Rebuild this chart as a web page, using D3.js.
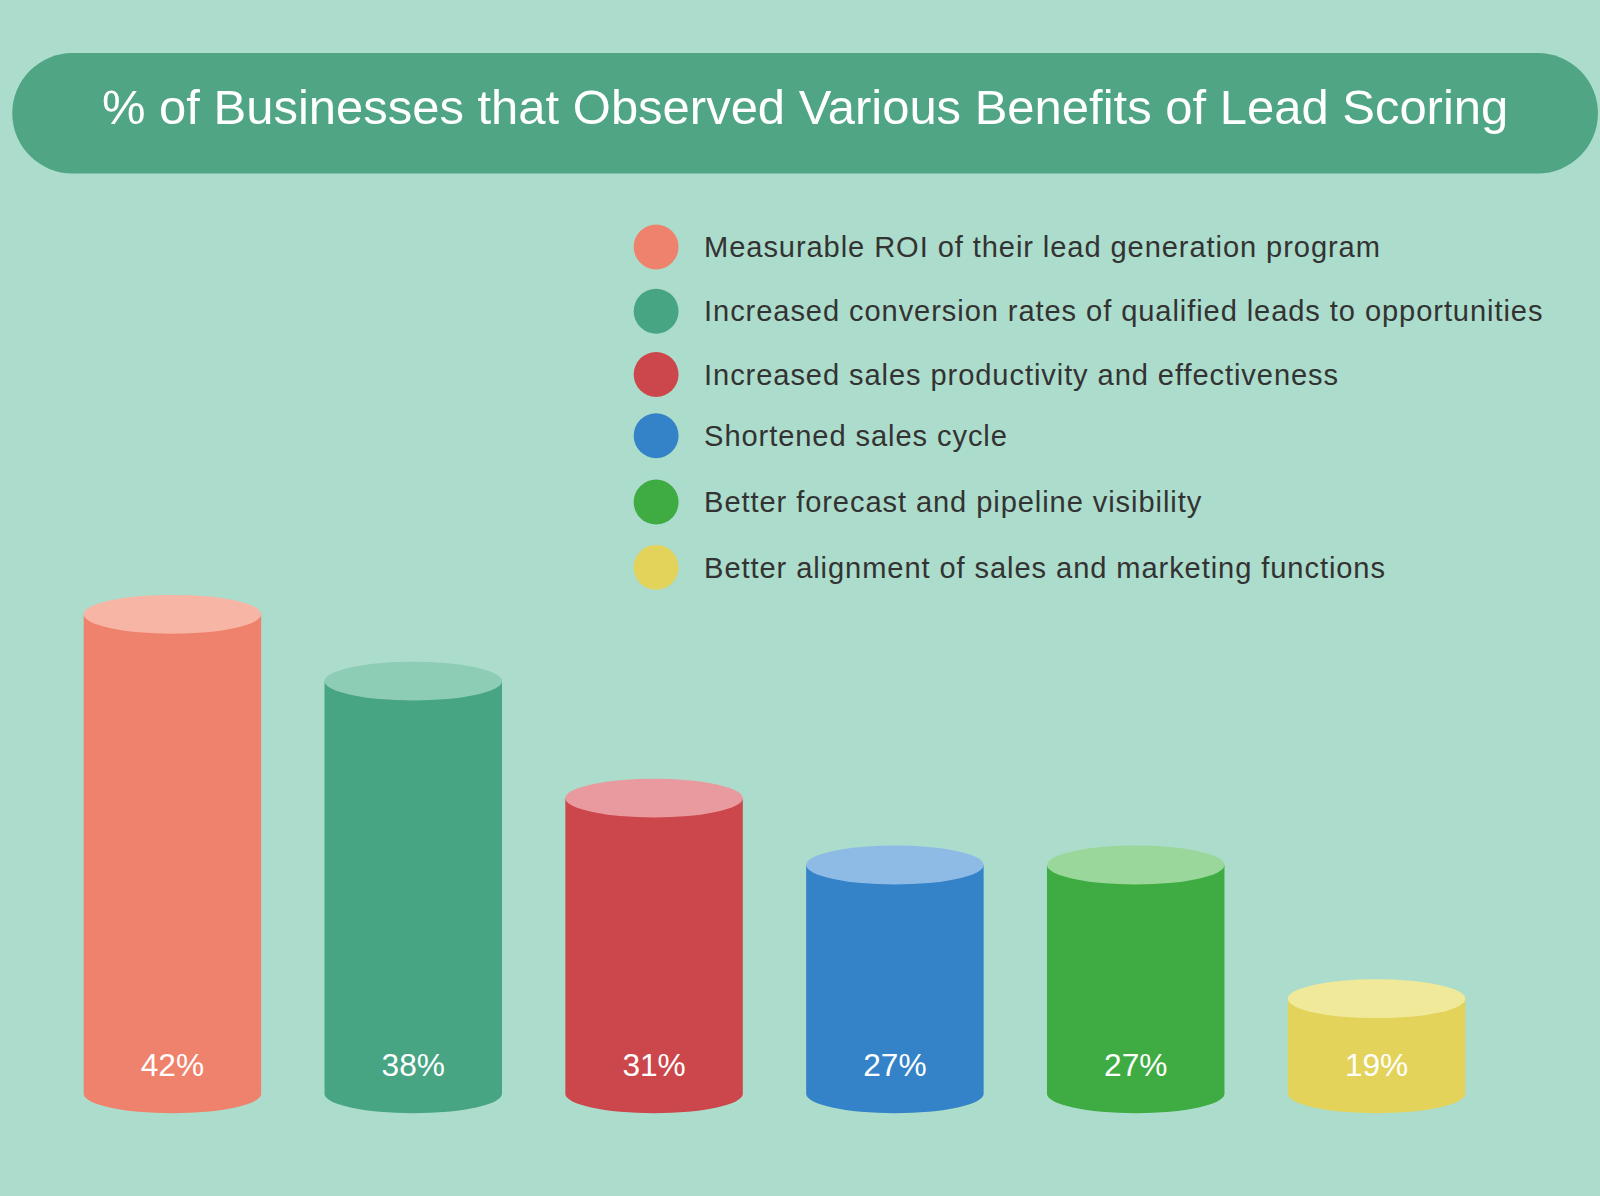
<!DOCTYPE html>
<html><head><meta charset="utf-8">
<script src="https://cdn.jsdelivr.net/npm/d3@7"></script>
<style>body{margin:0;background:#acdccb}</style></head>
<body><svg id="c" width="1600" height="1196"></svg>
<script>
const categories=["Measurable ROI of their lead generation program","Increased conversion rates of qualified leads to opportunities","Increased sales productivity and effectiveness","Shortened sales cycle","Better forecast and pipeline visibility","Better alignment of sales and marketing functions"];
const values=[42,38,31,27,27,19];
const labels=["42%","38%","31%","27%","27%","19%"];
const colors=["#ef826c","#48a584","#cc474b","#3483c8","#3eac42","#e3d35a"];
const topColors=["#f7b5a6","#8dccb5","#e89a9e","#8dbbe6","#9ad79b","#f1e99a"];
const legendY=[242,305,367,427,492,556];

const svg=d3.select("#c");
svg.append("rect").attr("width",1600).attr("height",1196).attr("fill","#acdccb");
const g=svg.append("g").attr("transform","scale(1.0204)");
g.append("rect").attr("x",12).attr("y",52).attr("width",1554).attr("height",118).attr("rx",59).attr("fill","#4fa584");
g.append("text").attr("x",789).attr("y",122).attr("text-anchor","middle").attr("fill","#fff")
 .attr("font-family","Liberation Sans, Arial, sans-serif").attr("font-size",48).text("% of Businesses that Observed Various Benefits of Lead Scoring");

const leg=g.selectAll(".leg").data(categories).join("g").attr("transform",(d,i)=>`translate(0,${legendY[i]})`);
leg.append("circle").attr("cx",643).attr("r",22).attr("fill",(d,i)=>colors[i]);
leg.append("text").attr("x",690).attr("y",10).attr("fill","#333").attr("font-family","Liberation Sans, Arial, sans-serif").attr("font-size",28.5).attr("letter-spacing",0.9).text(d=>d);

const x=d3.scaleBand().domain(d3.range(6)).range([82,1436]).paddingInner(0.263).paddingOuter(0);
const y=d3.scaleLinear().domain([0,42]).range([1290,602]);
const ry=19, base=1072;
const bars=g.selectAll(".bar").data(values).join("g");
bars.append("path").attr("fill",(d,i)=>colors[i]).attr("d",(d,i)=>{
 const x0=x(i),w=x.bandwidth(),t=y(d);
 return `M${x0},${t}L${x0},${base}A${w/2},${ry} 0 0 0 ${x0+w},${base}L${x0+w},${t}Z`;});
bars.append("ellipse").attr("cx",(d,i)=>x(i)+x.bandwidth()/2).attr("cy",d=>y(d)).attr("rx",x.bandwidth()/2).attr("ry",ry).attr("fill",(d,i)=>topColors[i]);
bars.append("text").attr("x",(d,i)=>x(i)+x.bandwidth()/2).attr("y",1054).attr("text-anchor","middle").attr("fill","#fff")
 .attr("font-family","Liberation Sans, Arial, sans-serif").attr("font-size",31).text((d,i)=>labels[i]);
</script></body></html>
